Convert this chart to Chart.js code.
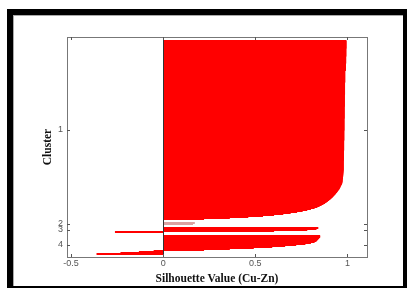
<!DOCTYPE html>
<html>
<head>
<meta charset="utf-8">
<script src="https://cdn.jsdelivr.net/npm/chart.js@4"></script>
<style>
  html, body { margin: 0; padding: 0; background: #fff; }
  #wrap { position: relative; width: 407px; height: 288px; overflow: hidden; }
  #frame {
    position: absolute; left: 7px; top: 9px; width: 400px; height: 279px;
    box-sizing: border-box; border-style: solid; border-color: #000;
    border-width: 6px 4px 2px 6px; box-shadow: inset 1px 1px 0 #aaa;
    pointer-events: none;
  }
  canvas { position: absolute; left: 0; top: 0; }
</style>
</head>
<body>
<div id="wrap">
  <canvas id="silhouetteChart" width="407" height="288"></canvas>
  <div id="frame"></div>
</div>
<script>
const clusterLabels = ['1', '2', '3', '4'];

// silhouette value of every point, sorted inside each cluster (top to bottom)
const cluster1 = [
  0.993, 0.993, 0.993, 0.993, 0.993, 0.993, 0.993, 0.993,
  0.992, 0.992, 0.992, 0.992, 0.992, 0.992, 0.992, 0.992,
  0.991, 0.991, 0.991, 0.991, 0.991, 0.991, 0.991,
  0.990, 0.990, 0.990, 0.990, 0.990, 0.990, 0.990,
  0.986, 0.986, 0.986, 0.986, 0.986, 0.986, 0.986, 0.986, 0.986, 0.986, 0.986, 0.986,
  0.985, 0.985, 0.985, 0.985, 0.985, 0.985, 0.985, 0.985, 0.985, 0.985, 0.985, 0.985,
  0.984, 0.984, 0.984, 0.984, 0.984, 0.984, 0.984, 0.984, 0.984, 0.984, 0.984, 0.984,
  0.983, 0.983, 0.983, 0.983, 0.983, 0.983, 0.983, 0.983, 0.983, 0.983, 0.983, 0.983,
  0.982, 0.982, 0.982, 0.982, 0.982, 0.982, 0.982, 0.982, 0.982, 0.982, 0.982, 0.982,
  0.981, 0.981, 0.981, 0.981, 0.981, 0.981, 0.981, 0.981, 0.981, 0.981,
  0.980, 0.980, 0.980, 0.980, 0.980, 0.980, 0.980, 0.980, 0.980, 0.980,
  0.979, 0.979, 0.979, 0.979, 0.979, 0.979, 0.979, 0.979, 0.979, 0.979,
  0.978, 0.978, 0.978, 0.978, 0.978, 0.978, 0.978, 0.978, 0.978, 0.978,
  0.977, 0.977, 0.976, 0.976, 0.975, 0.975, 0.974, 0.974, 0.973, 0.972, 0.972, 0.971, 0.970,
  0.968, 0.965, 0.962, 0.960, 0.957, 0.954, 0.950, 0.946, 0.942, 0.937,
  0.933, 0.928, 0.923, 0.918, 0.912, 0.906, 0.899, 0.892, 0.885, 0.877,
  0.868, 0.858, 0.847, 0.835, 0.820, 0.800, 0.780, 0.755, 0.725, 0.690,
  0.650, 0.600, 0.540, 0.460, 0.360, 0.220
];
const cluster2 = [0.17, 0.16];
const cluster3 = [0.84, 0.83, 0.78, 0.60, -0.26];
const cluster4 = [
  0.85, 0.85, 0.845, 0.84, 0.835, 0.83, 0.82, 0.80, 0.77, 0.72,
  0.66, 0.59, 0.49, 0.36, 0.22, -0.05, -0.13, -0.23, -0.36
];
const xTickValues = [-0.5, 0, 0.5, 1];

const clusters = [cluster1, cluster2, cluster3, cluster4];
const clusterColors = ['#ff0000', '#dba3a3', '#ff0000', '#ff0000'];

// one row per point, a small gap between clusters (like matlab silhouette)
const topPad = 3.5, gap = 3, bottomPad = 2.5;
const points = [], colors = [], centers = [];
let row = topPad;
clusters.forEach((vals, c) => {
  const start = row;
  vals.forEach(v => {
    points.push({x: v, y: row + 0.5});
    colors.push(clusterColors[c]);
    row += 1;
  });
  centers.push((start + row) / 2);
  row += gap;
});
const yMax = row - gap + bottomPad;

// axes box with inward tick marks on all four sides
const frameTicks = {
  id: 'frameTicks',
  afterDraw(chart) {
    const {ctx, chartArea: a, scales: {x, y}} = chart;
    ctx.save();
    ctx.lineWidth = 1;
    ctx.strokeStyle = '#777';
    ctx.strokeRect(Math.round(a.left) + 0.5, Math.round(a.top) + 0.5, Math.round(a.width), Math.round(a.height));
    ctx.strokeStyle = '#555';
    ctx.beginPath();
    x.ticks.forEach(t => {
      const px = Math.round(x.getPixelForValue(t.value)) + 0.5;
      ctx.moveTo(px, a.bottom); ctx.lineTo(px, a.bottom - 3);
      ctx.moveTo(px, a.top); ctx.lineTo(px, a.top + 3);
    });
    y.ticks.forEach(t => {
      const py = Math.round(y.getPixelForValue(t.value)) + 0.5;
      ctx.moveTo(a.left, py); ctx.lineTo(a.left + 3, py);
      ctx.moveTo(a.right, py); ctx.lineTo(a.right - 3, py);
    });
    ctx.stroke();
    ctx.restore();
  }
};

const tickFont = {family: 'Liberation Sans, Arial, sans-serif', size: 9};
const titleFont = {family: 'Liberation Serif, Times New Roman, serif', size: 11.5, weight: 'bold'};

const ctx = document.getElementById('silhouetteChart').getContext('2d');
const silhouetteChart = new Chart(ctx, {
  type: 'bar',
  data: {
    datasets: [{
      data: points,
      backgroundColor: colors,
      borderWidth: 0,
      barThickness: 1.4
    }]
  },
  options: {
    responsive: false,
    animation: false,
    indexAxis: 'y',
    layout: {padding: {left: 0, top: 37, right: 40, bottom: 0}},
    plugins: {
      legend: {display: false},
      tooltip: {enabled: false}
    },
    scales: {
      x: {
        type: 'linear',
        min: -0.522,
        max: 1.106,
        afterBuildTicks: s => { s.ticks = xTickValues.map(v => ({value: v})); },
        afterFit: s => { s.height = 31; },
        ticks: {
          font: tickFont,
          color: '#555',
          padding: 1,
          callback: v => String(v)
        },
        grid: {
          z: 1,
          drawTicks: false,
          color: c => (c.tick && c.tick.value === 0) ? '#333' : 'rgba(0,0,0,0)'
        },
        border: {display: false},
        title: {
          display: true,
          text: 'Silhouette Value (Cu-Zn)',
          font: titleFont,
          color: '#111',
          padding: {top: 0, bottom: 2}
        }
      },
      y: {
        type: 'linear',
        reverse: true,
        offset: false,
        min: 0,
        max: yMax,
        afterBuildTicks: s => { s.ticks = centers.map(v => ({value: v})); },
        afterFit: s => { s.width = 67; },
        ticks: {
          font: tickFont,
          color: '#555',
          padding: 4,
          autoSkip: false,
          callback: (v, i) => clusterLabels[i]
        },
        grid: {display: false, drawTicks: false, offset: false},
        border: {display: false},
        title: {
          display: true,
          text: 'Cluster',
          font: titleFont,
          color: '#111',
          padding: {top: 41, bottom: 0}
        }
      }
    }
  },
  plugins: [frameTicks]
});
</script>
</body>
</html>
